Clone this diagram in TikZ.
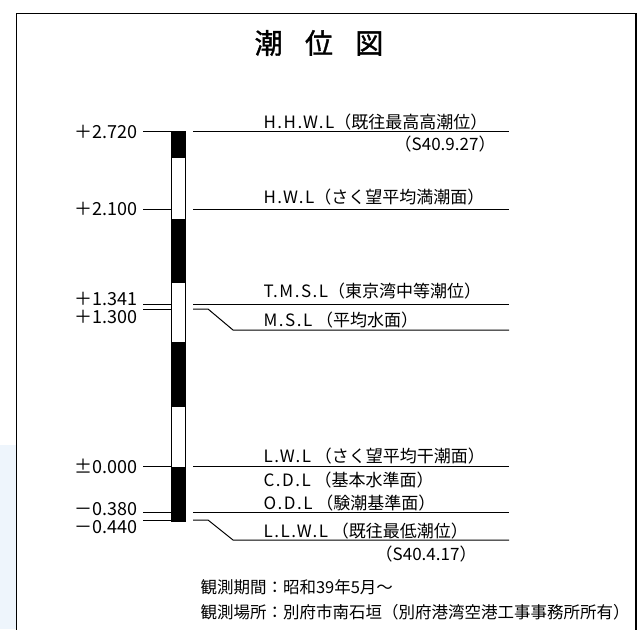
\documentclass[tikz,border=0pt]{standalone}
\usepackage{fontspec}
\setmainfont{Noto Sans CJK JP}
\definecolor{paleblue}{HTML}{EEF5FC}
\newcommand{\wide}[1]{{\addfontfeatures{LetterSpace=9}#1}}

\begin{document}
\begin{tikzpicture}[x=1pt, y=-1pt, line width=1pt,
  lab/.style={anchor=base west, inner sep=0pt, font=\fontsize{17}{19}\selectfont},
  num/.style={anchor=east, inner sep=0pt, font=\fontsize{18}{20}\selectfont},
  foot/.style={anchor=base west, inner sep=0pt, font=\fontsize{16.5}{19}\selectfont}]
  \useasboundingbox (0,0) rectangle (637,629);
  \fill[paleblue] (0,445) rectangle (16,629);
  \draw[line width=1.5pt] (16.5,640) -- (16.5,13.5) -- (636,13.5) -- (636,640);

  \node[font=\fontsize{28}{30}\selectfont\addfontfeatures{FakeBold=1.2}] (title) at (319,43) {潮\hspace{0.8em}位\hspace{0.8em}図};

  % tide staff, black every other half metre
  \foreach \a/\b in {131/158, 219/283, 342/407, 467/521}
    \fill (171,\a) rectangle (185,\b);
  \draw (171,131) rectangle (185,521);

  % level lines
  \foreach \y in {131.5, 209, 304, 466, 512.7}
    \draw (143,\y) -- (171,\y) (193,\y) -- (509,\y);
  \draw[line width=1.4pt] (193,131.5) -- (235,131.5);
  \draw (143,309) -- (171,309);
  \draw (143,520) -- (171,520);
  \draw (193,309) -- (208,309) -- (233,330) -- (509,330);
  \draw (193,520) -- (208,520) -- (233,540) -- (509,540);

  \node[num] (n272) at (138,131.5) {＋2.720};
  \node[num] (n210) at (138,209) {＋2.100};
  \node[num, anchor=base east] (n1341) at (138,305) {＋1.341};
  \node[num, anchor=base east] (n1300) at (138,323) {＋1.300};
  \node[num] (n000) at (138,466) {±0.000};
  \node[num, anchor=base east] (n038) at (138,515) {－0.380};
  \node[num, anchor=base east] (n044) at (138,533) {－0.440};

  \node[lab] (hhwl) at (263,128.5) {\wide{H.H.W.L}（既往最高高潮位）};
  \node[lab, anchor=base east] (hhwldate) at (496,150) {（S40.9.27）};
  \node[lab] (hwl) at (263,203) {\wide{H.W.L}（さく望平均満潮面）};
  \node[lab] (tmsl) at (263,297) {\wide{T.M.S.L}（東京湾中等潮位）};
  \node[lab] (msl) at (263,326) {\wide{M.S.L} （平均水面）};
  \node[lab] (lwl) at (263,462) {\wide{L.W.L} （さく望平均干潮面）};
  \node[lab] (cdl) at (263,486) {\wide{C.D.L} （基本水準面）};
  \node[lab] (odl) at (263,509) {\wide{O.D.L} （験潮基準面）};
  \node[lab] (llwl) at (263,537) {\wide{L.L.W.L} （既往最低潮位）};
  \node[lab, anchor=base east] (llwldate) at (477,560) {（S40.4.17）};

  \node[foot] (period) at (200,593) {観測期間：昭和39年5月～};
  \node[foot] (place) at (200,618) {観測場所：別府市南石垣（別府港湾空港工事事務所所有）};
\end{tikzpicture}
\end{document}
